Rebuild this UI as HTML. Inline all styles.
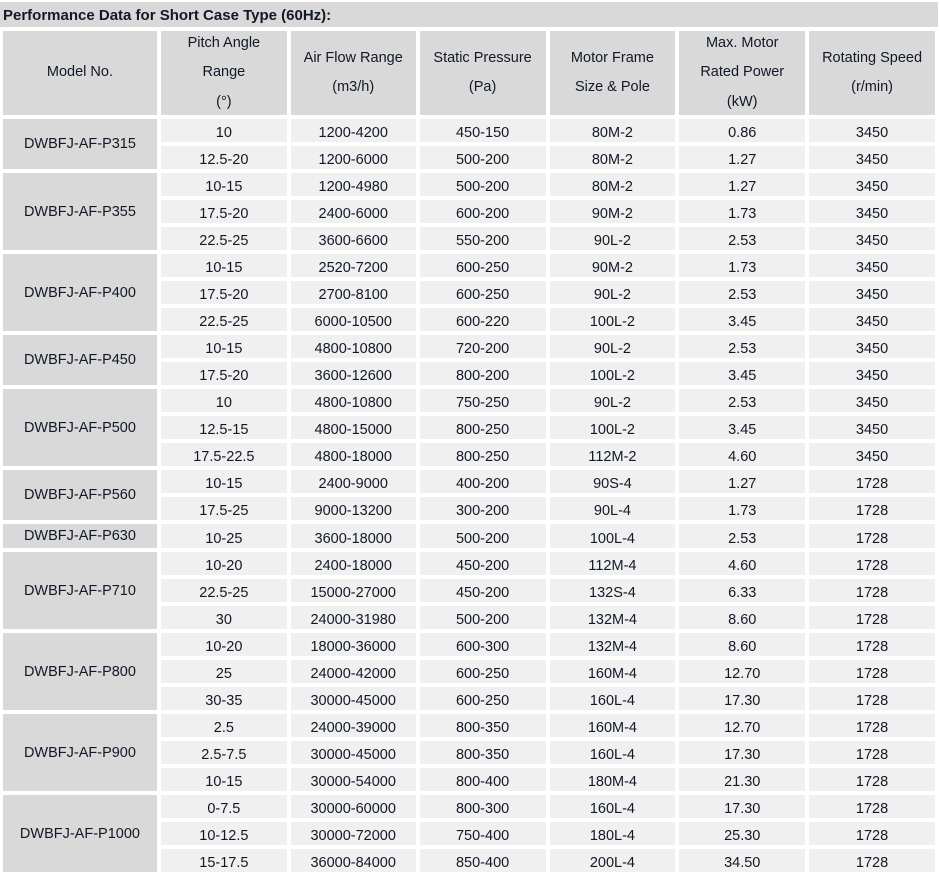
<!DOCTYPE html>
<html><head><style>
body{margin:0;background:#fff;width:940px;height:873px;overflow:hidden;font-family:"Liberation Sans",sans-serif;color:#111827;}
.title{position:absolute;left:0;top:2px;width:938px;height:25px;background:#d9d9d9;font-weight:bold;font-size:15px;line-height:27px;padding-left:3px;box-sizing:border-box;}
table{position:absolute;left:-1px;top:27px;border-collapse:separate;border-spacing:4px;table-layout:fixed;}
td{padding:0;text-align:center;font-size:14.5px;background:#f0f0f0;height:23px;line-height:17px;vertical-align:bottom;white-space:nowrap;overflow:hidden;}
td.m{background:#d9d9d9;vertical-align:middle;padding-top:1px;}
th{padding:0;background:#d9d9d9;font-weight:normal;font-size:14.5px;height:84px;line-height:29.5px;overflow:hidden;}
th div{height:84px;display:flex;flex-direction:column;justify-content:center;overflow:hidden;}
</style></head><body>
<div class="title">Performance Data for Short Case Type (60Hz):</div>
<table>
<colgroup><col style="width:154px"><col style="width:126px"><col style="width:125px"><col style="width:126px"><col style="width:126px"><col style="width:126px"><col style="width:126px"></colgroup>
<tr><th><div><span>Model No.</span></div></th><th><div><span>Pitch Angle<br>Range<br>(°)</span></div></th><th><div><span>Air Flow Range<br>(m3/h)</span></div></th><th><div><span>Static Pressure<br>(Pa)</span></div></th><th><div><span>Motor Frame<br>Size &amp; Pole</span></div></th><th><div><span>Max. Motor<br>Rated Power<br>(kW)</span></div></th><th><div><span>Rotating Speed<br>(r/min)</span></div></th></tr>
<tr><td class="m" rowspan="2">DWBFJ-AF-P315</td><td>10</td><td>1200-4200</td><td>450-150</td><td>80M-2</td><td>0.86</td><td>3450</td></tr>
<tr><td>12.5-20</td><td>1200-6000</td><td>500-200</td><td>80M-2</td><td>1.27</td><td>3450</td></tr>
<tr><td class="m" rowspan="3">DWBFJ-AF-P355</td><td>10-15</td><td>1200-4980</td><td>500-200</td><td>80M-2</td><td>1.27</td><td>3450</td></tr>
<tr><td>17.5-20</td><td>2400-6000</td><td>600-200</td><td>90M-2</td><td>1.73</td><td>3450</td></tr>
<tr><td>22.5-25</td><td>3600-6600</td><td>550-200</td><td>90L-2</td><td>2.53</td><td>3450</td></tr>
<tr><td class="m" rowspan="3">DWBFJ-AF-P400</td><td>10-15</td><td>2520-7200</td><td>600-250</td><td>90M-2</td><td>1.73</td><td>3450</td></tr>
<tr><td>17.5-20</td><td>2700-8100</td><td>600-250</td><td>90L-2</td><td>2.53</td><td>3450</td></tr>
<tr><td>22.5-25</td><td>6000-10500</td><td>600-220</td><td>100L-2</td><td>3.45</td><td>3450</td></tr>
<tr><td class="m" rowspan="2">DWBFJ-AF-P450</td><td>10-15</td><td>4800-10800</td><td>720-200</td><td>90L-2</td><td>2.53</td><td>3450</td></tr>
<tr><td>17.5-20</td><td>3600-12600</td><td>800-200</td><td>100L-2</td><td>3.45</td><td>3450</td></tr>
<tr><td class="m" rowspan="3">DWBFJ-AF-P500</td><td>10</td><td>4800-10800</td><td>750-250</td><td>90L-2</td><td>2.53</td><td>3450</td></tr>
<tr><td>12.5-15</td><td>4800-15000</td><td>800-250</td><td>100L-2</td><td>3.45</td><td>3450</td></tr>
<tr><td>17.5-22.5</td><td>4800-18000</td><td>800-250</td><td>112M-2</td><td>4.60</td><td>3450</td></tr>
<tr><td class="m" rowspan="2">DWBFJ-AF-P560</td><td>10-15</td><td>2400-9000</td><td>400-200</td><td>90S-4</td><td>1.27</td><td>1728</td></tr>
<tr><td>17.5-25</td><td>9000-13200</td><td>300-200</td><td>90L-4</td><td>1.73</td><td>1728</td></tr>
<tr><td class="m">DWBFJ-AF-P630</td><td>10-25</td><td>3600-18000</td><td>500-200</td><td>100L-4</td><td>2.53</td><td>1728</td></tr>
<tr><td class="m" rowspan="3">DWBFJ-AF-P710</td><td>10-20</td><td>2400-18000</td><td>450-200</td><td>112M-4</td><td>4.60</td><td>1728</td></tr>
<tr><td>22.5-25</td><td>15000-27000</td><td>450-200</td><td>132S-4</td><td>6.33</td><td>1728</td></tr>
<tr><td>30</td><td>24000-31980</td><td>500-200</td><td>132M-4</td><td>8.60</td><td>1728</td></tr>
<tr><td class="m" rowspan="3">DWBFJ-AF-P800</td><td>10-20</td><td>18000-36000</td><td>600-300</td><td>132M-4</td><td>8.60</td><td>1728</td></tr>
<tr><td>25</td><td>24000-42000</td><td>600-250</td><td>160M-4</td><td>12.70</td><td>1728</td></tr>
<tr><td>30-35</td><td>30000-45000</td><td>600-250</td><td>160L-4</td><td>17.30</td><td>1728</td></tr>
<tr><td class="m" rowspan="3">DWBFJ-AF-P900</td><td>2.5</td><td>24000-39000</td><td>800-350</td><td>160M-4</td><td>12.70</td><td>1728</td></tr>
<tr><td>2.5-7.5</td><td>30000-45000</td><td>800-350</td><td>160L-4</td><td>17.30</td><td>1728</td></tr>
<tr><td>10-15</td><td>30000-54000</td><td>800-400</td><td>180M-4</td><td>21.30</td><td>1728</td></tr>
<tr><td class="m" rowspan="3">DWBFJ-AF-P1000</td><td>0-7.5</td><td>30000-60000</td><td>800-300</td><td>160L-4</td><td>17.30</td><td>1728</td></tr>
<tr><td>10-12.5</td><td>30000-72000</td><td>750-400</td><td>180L-4</td><td>25.30</td><td>1728</td></tr>
<tr><td>15-17.5</td><td>36000-84000</td><td>850-400</td><td>200L-4</td><td>34.50</td><td>1728</td></tr>
</table>
</body></html>
